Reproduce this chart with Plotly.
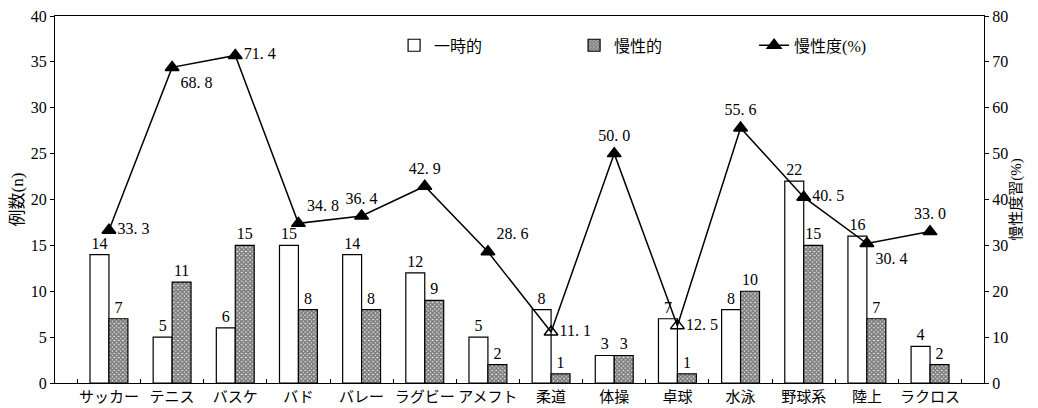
import plotly.graph_objects as go

categories = ["サッカー", "テニス", "バスケ", "バド", "バレー", "ラグビー", "アメフト",
              "柔道", "体操", "卓球", "水泳", "野球系", "陸上", "ラクロス"]
temporary = [14, 5, 6, 15, 14, 12, 5, 8, 3, 7, 8, 22, 16, 4]
chronic = [7, 11, 15, 8, 8, 9, 2, 1, 3, 1, 10, 15, 7, 2]
chronic_rate = [33.3, 68.8, 71.4, 34.8, 36.4, 42.9, 28.6, 11.1, 50.0, 12.5, 55.6, 40.5, 30.4, 33.0]
rate_label_pos = ["middle right", "bottom right", "middle right", "top right", "top center",
                  "top center", "top right", "middle right", "top center", "middle right",
                  "top center", "middle right", "bottom right", "top center"]
rate_symbols = ["triangle-up"] * 7 + ["triangle-up-open", "triangle-up", "triangle-up-open"] + ["triangle-up"] * 4

FONT = "Liberation Serif, Noto Sans CJK JP, serif"

fig = go.Figure()
fig.add_trace(go.Bar(
    x=categories, y=temporary, name="一時的",
    marker=dict(color="white", line=dict(color="black", width=1.2)),
    text=temporary, textposition="outside", textfont=dict(size=16, color="black", family=FONT),
    cliponaxis=False,
))
fig.add_trace(go.Bar(
    x=categories, y=chronic, name="慢性的",
    marker=dict(color="white", line=dict(color="black", width=1.2),
                pattern=dict(shape="x", size=3, solidity=0.85, fgcolor="black", bgcolor="white")),
    text=chronic, textposition="outside", textfont=dict(size=16, color="black", family=FONT),
    cliponaxis=False,
))
fig.add_trace(go.Scatter(
    x=categories, y=chronic_rate, name="慢性度(%)", yaxis="y2",
    mode="lines+markers+text",
    line=dict(color="black", width=1.5),
    marker=dict(symbol=rate_symbols, size=12, color="black", line=dict(color="black", width=1.5)),
    text=[f"{v:.1f}".replace(".", ". ") for v in chronic_rate],
    textposition=rate_label_pos,
    textfont=dict(size=16, color="black", family=FONT),
    cliponaxis=False,
))

fig.update_layout(
    width=1038, height=408,
    margin=dict(l=47, r=62, t=8, b=33, autoexpand=False),
    plot_bgcolor="white", paper_bgcolor="white",
    font=dict(family=FONT, color="black", size=15),
    barmode="group", bargap=0.4, bargroupgap=0,
    showlegend=True,
    legend=dict(orientation="h", x=0.365, y=0.92, xanchor="left", yanchor="middle",
                entrywidth=135, entrywidthmode="pixels",
                font=dict(size=16, family=FONT), bgcolor="rgba(0,0,0,0)"),
    xaxis=dict(showline=True, linecolor="black", linewidth=1.2, mirror=True,
               ticks="inside", ticklen=4, tickson="boundaries", tickcolor="black",
               tickangle=0, automargin=False, ticklabeloverflow="allow",
               tickfont=dict(size=15, family=FONT), showgrid=False),
    yaxis=dict(range=[0, 40], dtick=5, showline=True, linecolor="black", linewidth=1.2,
               ticks="outside", ticklen=4, tickcolor="black", showgrid=False, zeroline=False,
               tickfont=dict(size=16, family=FONT), automargin=False, ticklabeloverflow="allow",
               title=dict(text="例数(n)", font=dict(size=17, family=FONT), standoff=4)),
    yaxis2=dict(range=[0, 80], dtick=10, overlaying="y", side="right", showline=True,
                linecolor="black", linewidth=1.2, ticks="outside", ticklen=4, tickcolor="black",
                showgrid=False, zeroline=False, tickfont=dict(size=16, family=FONT), automargin=False,
                ticklabeloverflow="allow",
                title=dict(text="慢性度習(%)", font=dict(size=15, family=FONT), standoff=2)),
)

fig.write_html("out.html")
